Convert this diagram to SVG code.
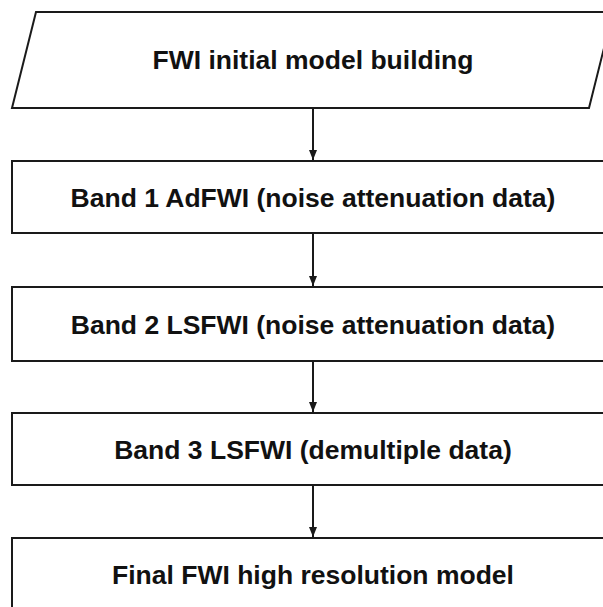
<svg xmlns="http://www.w3.org/2000/svg" width="603" height="607" viewBox="0 0 603 607">
  <style>
    .shape { fill: #ffffff; stroke: #1a1a1a; stroke-width: 2; }
    .label { font-family: "Liberation Sans", Arial, sans-serif; font-weight: bold; font-size: 26.5px; fill: #111111; text-anchor: middle; }
    .link { stroke: #1a1a1a; stroke-width: 2; fill: none; marker-end: url(#arrow); }
  </style>
  <defs>
    <marker id="arrow" markerWidth="10" markerHeight="9" refX="10" refY="4.5" orient="auto" markerUnits="userSpaceOnUse">
      <path d="M0,0.5 L10,4.5 L0,8.5 Z" fill="#1a1a1a"/>
    </marker>
  </defs>
  <rect width="603" height="607" fill="#ffffff"/>

  <g id="connectors">
    <line class="link" x1="313" y1="108" x2="313" y2="160"/>
    <line class="link" x1="313" y1="233" x2="313" y2="286"/>
    <line class="link" x1="313" y1="361" x2="313" y2="412"/>
    <line class="link" x1="313" y1="485" x2="313" y2="537"/>
  </g>

  <g id="initial-model">
    <polygon class="shape" points="36,12 613,12 589,108 12,108"/>
    <text class="label" x="313" y="69">FWI initial model building</text>
  </g>

  <g id="band1">
    <rect class="shape" x="12" y="161" width="602" height="72"/>
    <text class="label" x="313" y="206.5">Band 1 AdFWI (noise attenuation data)</text>
  </g>

  <g id="band2">
    <rect class="shape" x="12" y="287" width="602" height="74"/>
    <text class="label" x="313" y="333.5">Band 2 LSFWI (noise attenuation data)</text>
  </g>

  <g id="band3">
    <rect class="shape" x="12" y="413" width="602" height="72"/>
    <text class="label" x="313" y="458.5">Band 3 LSFWI (demultiple data)</text>
  </g>

  <g id="final-model">
    <rect class="shape" x="12" y="538" width="602" height="80"/>
    <text class="label" x="313" y="583.5">Final FWI high resolution model</text>
  </g>
</svg>
